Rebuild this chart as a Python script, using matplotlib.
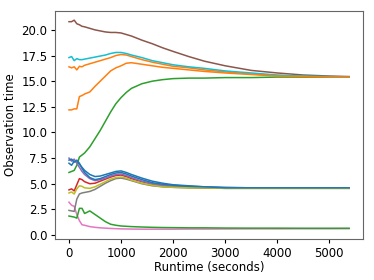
import matplotlib
matplotlib.use("Agg")
import matplotlib.pyplot as plt

t = [0, 50, 100, 150, 200, 250, 300, 400, 500, 600, 700, 800, 900, 1000, 1100, 1200,
     1400, 1600, 1800, 2000, 2300, 2600, 3000, 3500, 4000, 4500, 5000, 5380]

blue_a = [7.0, 6.8, 7.2, 7.1, 6.9, 6.6, 6.3, 5.9, 5.7, 5.75, 5.9, 6.05, 6.2, 6.25, 6.1, 5.9,
          5.55, 5.25, 5.05, 4.9, 4.8, 4.7, 4.65, 4.6, 4.6, 4.6, 4.6, 4.6]
orange_a = [16.4, 16.3, 16.4, 16.1, 16.45, 16.4, 16.55, 16.7, 16.85, 17.0, 17.15, 17.3, 17.5, 17.6,
            17.55, 17.4, 17.1, 16.85, 16.65, 16.45, 16.3, 16.1, 15.9, 15.7, 15.55, 15.45, 15.4, 15.4]
green_a = [6.1, 6.2, 6.3, 6.8, 7.6, 7.8, 8.0, 8.6, 9.4, 10.2, 11.1, 12.0, 12.8, 13.4, 13.9, 14.3,
           14.75, 15.0, 15.15, 15.25, 15.3, 15.3, 15.35, 15.35, 15.4, 15.4, 15.4, 15.4]
red = [4.4, 4.5, 4.3, 4.9, 5.5, 5.4, 5.2, 5.0, 5.05, 5.25, 5.45, 5.65, 5.8, 5.85, 5.7, 5.5,
       5.2, 4.95, 4.8, 4.7, 4.65, 4.6, 4.6, 4.6, 4.6, 4.6, 4.6, 4.6]
purple = [7.5, 7.2, 7.4, 7.0, 6.6, 6.2, 5.9, 5.5, 5.3, 5.4, 5.55, 5.75, 5.9, 5.95, 5.8, 5.6,
          5.25, 5.0, 4.85, 4.75, 4.7, 4.65, 4.6, 4.6, 4.6, 4.6, 4.6, 4.6]
brown = [20.8, 20.8, 20.95, 20.6, 20.5, 20.35, 20.3, 20.15, 20.0, 19.9, 19.8, 19.75, 19.75, 19.7,
         19.55, 19.4, 19.0, 18.65, 18.25, 17.9, 17.4, 16.95, 16.5, 16.05, 15.8, 15.6, 15.5, 15.45]
pink = [3.2, 2.9, 2.8, 2.0, 1.4, 1.0, 0.95, 0.82, 0.75, 0.7, 0.67, 0.64, 0.62, 0.6, 0.59, 0.58,
        0.57, 0.57, 0.57, 0.57, 0.58, 0.58, 0.59, 0.6, 0.6, 0.61, 0.61, 0.62]
gray = [2.4, 2.35, 2.3, 3.5, 4.0, 4.1, 4.15, 4.25, 4.45, 4.75, 5.05, 5.3, 5.5, 5.55, 5.45, 5.3,
        5.0, 4.8, 4.7, 4.65, 4.6, 4.6, 4.55, 4.55, 4.55, 4.55, 4.55, 4.55]
olive = [4.1, 4.2, 4.0, 4.5, 4.8, 4.75, 4.6, 4.55, 4.7, 4.95, 5.2, 5.45, 5.6, 5.65, 5.55, 5.35,
         5.05, 4.85, 4.7, 4.65, 4.6, 4.6, 4.55, 4.55, 4.55, 4.55, 4.55, 4.55]
cyan = [17.3, 17.4, 17.0, 17.2, 17.1, 17.1, 17.15, 17.25, 17.35, 17.45, 17.55, 17.7, 17.8, 17.8,
        17.7, 17.55, 17.3, 17.0, 16.8, 16.6, 16.4, 16.25, 16.0, 15.8, 15.6, 15.5, 15.45, 15.4]
blue_b = [7.3, 7.4, 7.1, 7.3, 7.0, 6.5, 6.1, 5.6, 5.4, 5.5, 5.7, 5.9, 6.05, 6.1, 5.95, 5.75,
          5.4, 5.1, 4.95, 4.85, 4.75, 4.7, 4.6, 4.6, 4.6, 4.6, 4.6, 4.6]
orange_b = [12.2, 12.2, 12.3, 12.3, 13.5, 13.6, 13.75, 13.95, 14.5, 15.0, 15.5, 16.0, 16.3, 16.5,
            16.75, 16.8, 16.65, 16.5, 16.35, 16.25, 16.1, 15.95, 15.8, 15.65, 15.5, 15.45, 15.4, 15.4]
green_b = [1.85, 1.8, 1.75, 1.65, 2.6, 2.6, 2.1, 2.35, 2.0, 1.65, 1.3, 1.05, 0.95, 0.88, 0.85, 0.82,
           0.78, 0.75, 0.73, 0.72, 0.7, 0.7, 0.68, 0.67, 0.67, 0.66, 0.66, 0.66]

series = [blue_a, orange_a, green_a, red, purple, brown, pink, gray, olive, cyan,
          blue_b, orange_b, green_b]
colors = ["tab:blue", "tab:orange", "tab:green", "tab:red", "tab:purple", "tab:brown",
          "tab:pink", "tab:gray", "tab:olive", "tab:cyan", "tab:blue", "tab:orange", "tab:green"]

plt.rcParams["font.size"] = 8.5

fig = plt.figure(figsize=(3.74, 2.8), dpi=100)
ax = fig.add_axes([0.147, 0.146, 0.824, 0.815])
for ys, c in zip(series, colors):
    ax.plot(t, ys, color=c, linewidth=1.1)

ax.set_xlim(-269, 5649)
ax.set_ylim(-0.4, 21.85)
ax.set_xticks([0, 1000, 2000, 3000, 4000, 5000])
ax.set_yticks([0.0, 2.5, 5.0, 7.5, 10.0, 12.5, 15.0, 17.5, 20.0])
ax.tick_params(length=3, width=0.8, pad=2.5)
ax.set_xlabel("Runtime (seconds)", labelpad=1)
ax.set_ylabel("Observation time", labelpad=3)
for s in ax.spines.values():
    s.set_color("#666666")
fig.savefig("out.png", dpi=100)
